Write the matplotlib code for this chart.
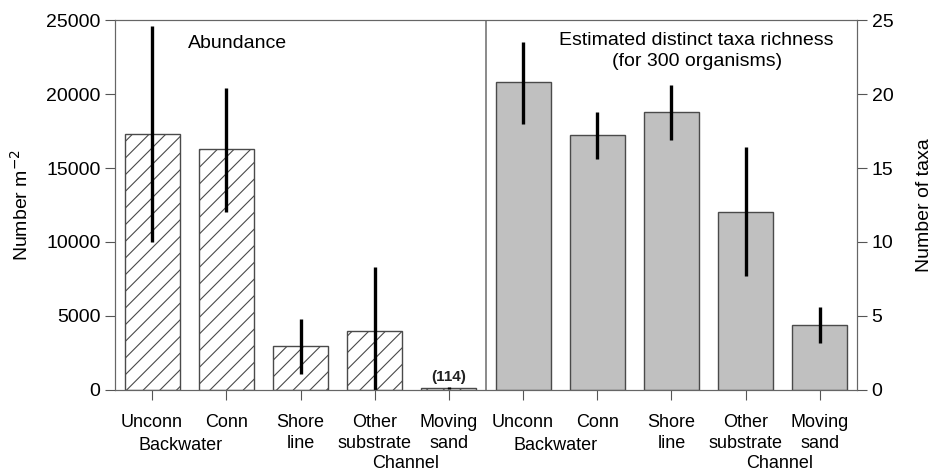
import numpy as np
import matplotlib
matplotlib.use("Agg")
import matplotlib.pyplot as plt

plt.rcParams["font.family"] = ["Liberation Sans", "DejaVu Sans"]
plt.rcParams["hatch.linewidth"] = 0.8

# categories (same for both panels)
labels = ["Unconn", "Conn", "Shore\nline", "Other\nsubstrate", "Moving\nsand"]

# abundance (number per m2) with lower / upper error limits
abund = [17300, 16300, 3000, 4000, 114]
abund_lo = [10000, 12000, 1100, 0, 50]
abund_hi = [24600, 20400, 4800, 8300, 200]

# estimated taxa richness with lower / upper error limits
taxa = [20.8, 17.2, 18.8, 12.0, 4.4]
taxa_lo = [18.0, 15.6, 16.9, 7.7, 3.2]
taxa_hi = [23.5, 18.8, 20.6, 16.4, 5.6]

edge = "#4a4a4a"
fig = plt.figure(figsize=(9.32, 4.73), dpi=100)
ax = fig.add_axes([0.1234, 0.1755, 0.7961, 0.7822])

x1 = np.arange(5)
x2 = np.arange(5) + 5
w = 0.74

# left panel: abundance, hatched bars
ax.bar(x1, abund, width=w, color="white", edgecolor=edge, hatch="//", linewidth=1.0)
ax.vlines(x1, abund_lo, abund_hi, color="black", linewidth=2.4)
ax.text(4, 380, "(114)", ha="center", va="bottom", fontsize=11, fontweight="bold", color="#222222")

ax.set_xlim(-0.5, 9.5)
ax.set_ylim(0, 25000)
ax.set_yticks(np.arange(0, 25001, 5000))
ax.set_ylabel("Number m$^{-2}$", fontsize=14, labelpad=10)

# right panel on twin axis: taxa richness, gray bars
ax2 = ax.twinx()
ax2.bar(x2, taxa, width=w, color="#c0c0c0", edgecolor=edge, linewidth=1.0)
ax2.vlines(x2, taxa_lo, taxa_hi, color="black", linewidth=2.4)
ax2.set_ylim(0, 25)
ax2.set_yticks(np.arange(0, 26, 5))
ax2.set_ylabel("Number of taxa", fontsize=14, labelpad=16)

# divider between panels
ax.axvline(4.5, color="#777777", linewidth=1.2)

ax.set_xticks(np.arange(10))
ax.set_xticklabels(labels + labels, linespacing=1.32)

for a in (ax, ax2):
    for s in a.spines.values():
        s.set_color("#666666")
    a.tick_params(direction="out", length=7, color="#555555", labelsize=14)
ax.tick_params(axis="x", labelsize=13, pad=10)

# group labels under the ticks
for xp, txt, yp in [(0.38, "Backwater", -0.151), (5.44, "Backwater", -0.151),
                    (3.42, "Channel", -0.2), (8.46, "Channel", -0.2)]:
    ax.text(xp, yp, txt, transform=ax.get_xaxis_transform(), ha="center", va="center", fontsize=13)

ax.text(0.48, 23400, "Abundance", ha="left", va="center", fontsize=14)
ax.text(7.34, 22.9, "Estimated distinct taxa richness\n(for 300 organisms)", ha="center", va="center",
        fontsize=14, transform=ax2.transData, linespacing=1.3)

fig.savefig("out.png", dpi=100)
